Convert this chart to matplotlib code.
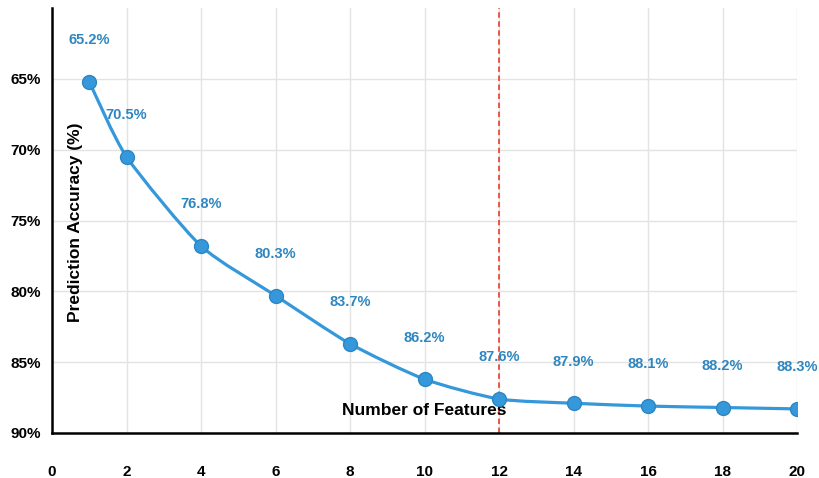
import matplotlib
matplotlib.use("Agg")
import matplotlib.pyplot as plt
import numpy as np
from matplotlib.path import Path
from matplotlib.patches import PathPatch

plt.rcParams['font.family'] = ['Liberation Sans', 'DejaVu Sans']

features = [1, 2, 4, 6, 8, 10, 12, 14, 16, 18, 20]
accuracy = [65.2, 70.5, 76.8, 80.3, 83.7, 86.2, 87.6, 87.9, 88.1, 88.2, 88.3]
labels = [f"{v}%" for v in accuracy]
yticks = [65, 70, 75, 80, 85, 90]
xticks = [0, 2, 4, 6, 8, 10, 12, 14, 16, 18, 20]
optimal = 12

line_c = "#3498db"
label_c = "#2e86c1"

fig = plt.figure(figsize=(8.19, 4.78), dpi=100)
ax = fig.add_axes([52 / 819, 1 - 433 / 478, 745 / 819, 425 / 478])

ax.set_xlim(0, 20)
ax.set_ylim(90, 60)

# smooth line through the points (cubic bezier, tension-like)
x = np.array(features, float)
y = np.array(accuracy, float)
t = 0.22
verts = [(x[0], y[0])]
codes = [Path.MOVETO]
for i in range(len(x) - 1):
    x0, y0 = (x[i - 1], y[i - 1]) if i > 0 else (x[i], y[i])
    x3, y3 = (x[i + 2], y[i + 2]) if i + 2 < len(x) else (x[i + 1], y[i + 1])
    c1 = (x[i] + (x[i + 1] - x0) * t / 2, y[i] + (y[i + 1] - y0) * t / 2)
    c2 = (x[i + 1] - (x3 - x[i]) * t / 2, y[i + 1] - (y3 - y[i]) * t / 2)
    verts += [c1, c2, (x[i + 1], y[i + 1])]
    codes += [Path.CURVE4] * 3
ax.add_patch(PathPatch(Path(verts, codes), fill=False, edgecolor=line_c,
                       lw=2.3, zorder=3))
ax.plot(features, accuracy, 'o', ms=10, color=line_c, mec="#2e86c1",
        mew=1, zorder=4)

for xi, yi, lab in zip(features, accuracy, labels):
    ax.annotate(lab, (xi, yi), xytext=(0, 30), textcoords="offset points",
                ha="center", va="center", color=label_c, fontsize=10.5,
                fontweight="bold", zorder=5)

ax.axvline(optimal, color="#e74c3c", lw=1.3, ls=(0, (3, 2)), zorder=2)

ax.set_xticks(xticks)
ax.set_yticks(yticks)
ax.set_yticklabels([f"{v}%" for v in yticks])
ax.tick_params(axis="both", length=0, labelsize=11)
ax.tick_params(axis="x", pad=23)
ax.tick_params(axis="y", pad=8)
for lab in ax.get_xticklabels() + ax.get_yticklabels():
    lab.set_fontweight("bold")
ax.grid(True, color="#e3e3e3", lw=1, zorder=0)
ax.set_axisbelow(True)

for s in ["top", "right"]:
    ax.spines[s].set_visible(False)
ax.spines["left"].set_linewidth(1.8)
ax.spines["bottom"].set_linewidth(1.8)

ax.text(0.5, 0.052, "Number of Features", transform=ax.transAxes,
        ha="center", va="center", fontsize=12.5, fontweight="bold")
ax.text(0.031, 0.495, "Prediction Accuracy (%)", transform=ax.transAxes,
        rotation=90, ha="center", va="center", fontsize=12.5,
        fontweight="bold")

fig.savefig("out.png", dpi=100)
